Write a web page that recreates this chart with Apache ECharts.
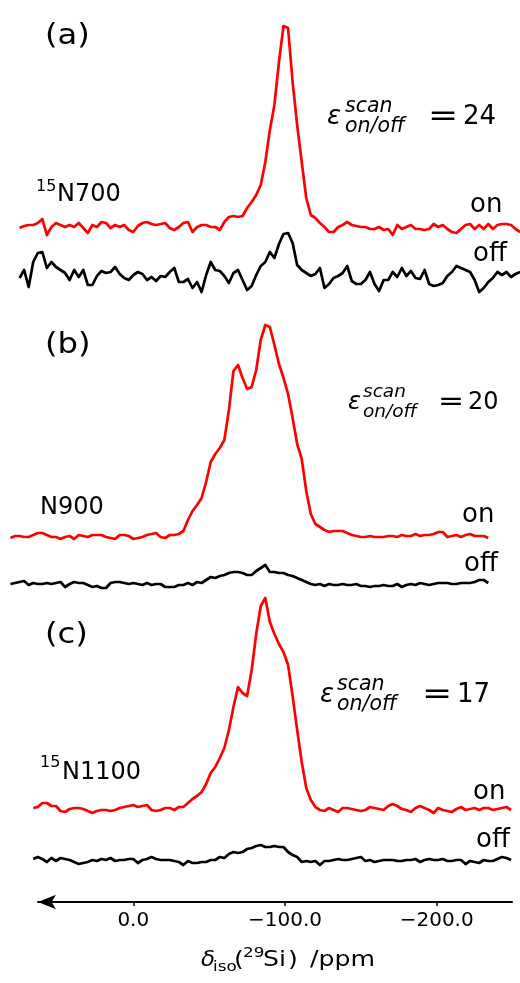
<!DOCTYPE html>
<html>
<head>
<meta charset="utf-8">
<script src="https://cdn.jsdelivr.net/npm/echarts@6/dist/echarts.min.js"></script>
<style>
  html, body { margin: 0; padding: 0; background: #fff; }
  #chart { width: 520px; height: 983px; }
</style>
</head>
<body>
<div id="chart"></div>
<script>
// 29Si chemical shift points (ppm), shared by all spectra
const shiftPpm = [
  81, 78, 75, 72, 69, 66, 63, 60, 57, 54,
  51, 48, 45, 42, 39, 36, 33, 30, 27, 24,
  21, 18, 15, 12, 9, 6, 3, 0, -3, -6,
  -9, -12, -15, -18, -21, -24, -27, -30, -33, -36,
  -39, -42, -45, -48, -51, -54, -57, -60, -63, -66,
  -69, -72, -75, -78, -81, -84, -87, -90, -93, -96,
  -99, -102, -105, -108, -111, -114, -117, -120, -123, -126,
  -129, -132, -135, -138, -141, -144, -147, -150, -153, -156,
  -159, -162, -165, -168, -171, -174, -177, -180, -183, -186,
  -189, -192, -195, -198, -201, -204, -207, -210, -213, -216,
  -219, -222, -225, -228, -231, -234, -237, -240, -243, -246,
  -249, -252, -255
];

// (a) 15N700 — DNP on / off intensities (a.u.)
const onA = [
  null, null, -2, 0, 1, 1, 3, 7, -9, -1,
  3, 1, -1, 1, -1, 3, -2, -7, 1, -1,
  4, 3, -2, 1, -1, 1, -4, -6, 0, 3,
  4, 2, 1, 2, 3, -2, -4, -1, 3, 4,
  -6, -1, 1, 1, -1, -1, -4, 4, 9, 10,
  9, 10, 18, 24, 31, 41, 64, 96, 121, 164,
  200, 198, 144, 101, 64, 28, 11, 8, 3, -1,
  -6, -6, -1, 1, 4, 1, 0, -1, -1, -3,
  -3, -1, -4, -3, -9, 1, -3, -1, 1, -3,
  -3, -4, -3, 2, -1, 1, -3, -6, -7, -3,
  1, 2, -3, 1, -3, 2, -3, 1, 2, 2,
  1, -3, -6
];
const offA = [
  null, null, -2, 6, -11, 14, 23, 24, 8, 14,
  9, 6, 3, -4, 6, -1, 6, -9, -9, 0,
  5, 3, 4, 9, 2, -2, -4, 1, 4, 2,
  -4, -1, -5, 0, -1, 4, 8, -6, -6, -3,
  -12, -6, -16, 1, 14, 6, 5, 0, -7, 3,
  6, -4, -14, -10, 1, 10, 14, 24, 18, 32,
  42, 43, 33, 11, 6, 3, 0, 2, 8, -12,
  -8, -2, 0, 3, 10, -5, -8, -8, -4, 4,
  -8, -15, -4, -4, 4, -1, 8, 0, 5, -2,
  -3, 6, -8, -10, -9, -7, 0, 4, 10, 8,
  6, 4, -4, -16, -12, -6, -2, 4, 1, 4,
  -1, 2, 4
];

// (b) N900
const onB = [
  -2, 0, 0, -1, -1, 1, 3, 3, 1, -1,
  -1, -3, -1, 0, -3, 1, 0, -1, 1, 1,
  1, -1, -2, -3, 1, 1, 0, -3, -2, -1,
  1, 2, 3, -1, -2, 1, 1, 2, 5, 16,
  25, 31, 38, 54, 74, 82, 88, 96, 126, 165,
  171, 158, 147, 149, 166, 196, 211, 209, 191, 172,
  158, 142, 118, 92, 77, 45, 22, 12, 9, 6,
  4, 5, 5, 5, 3, 1, 0, -1, -1, 0,
  -1, -1, -1, 0, 0, -1, 1, 0, 0, 2,
  0, 1, 1, 2, 4, 4, -1, 0, 1, -1,
  1, 2, 0, 0, 0, -2, null, null, null, null,
  null, null, null
];
const offB = [
  0, 1, 2, 3, -1, 1, 0, 0, 1, 0,
  1, 2, -3, 0, 2, 1, 1, -1, -3, -2,
  -4, -4, 1, 2, 2, 1, 0, 1, 0, -1,
  1, -1, 0, 0, -3, -3, -3, -1, -1, 1,
  -1, 2, 1, 4, 7, 6, 8, 9, 11, 12,
  12, 11, 9, 9, 13, 16, 19, 12, 12, 11,
  11, 9, 8, 6, 4, 2, 0, -1, 0, -2,
  0, -1, -1, 0, -1, -1, 0, -2, -2, -3,
  -2, -2, -1, -2, -2, 0, -3, -1, 0, -1,
  1, 0, -1, 0, 1, 1, 1, 0, 0, 1,
  1, 1, 2, 4, 4, 1, null, null, null, null,
  null, null, null
];

// (c) 15N1100
const onC = [
  null, null, null, null, null, 1, 2, 6, 6, 3,
  3, -2, -3, 0, 1, 1, 0, -2, -4, -2,
  -1, -1, -2, -1, 1, 2, 3, 4, 2, 3,
  4, -1, -2, -1, 1, 1, -1, 2, 2, 6,
  10, 13, 17, 25, 36, 42, 51, 61, 79, 102,
  122, 116, 113, 139, 175, 203, 211, 187, 175, 165,
  157, 144, 113, 79, 47, 21, 9, 2, -1, -2,
  1, -1, -3, 1, 1, 0, -1, -2, -1, 2,
  1, 0, -1, 3, 5, 3, 0, -1, -3, 1,
  3, 1, -1, -4, 1, -1, -2, -3, 0, 2,
  -1, 0, 1, -1, 1, 1, -1, 0, 1, 2,
  -1, null, null
];
const offC = [
  null, null, null, null, null, 1, 3, 1, -2, 2,
  -1, 2, 1, 0, -2, -4, -3, -2, 0, -1,
  1, 0, 2, -1, 0, 0, 1, 1, -3, 0,
  1, 3, 1, 0, 0, 0, -1, -2, -5, -1,
  -3, -3, -2, -2, 0, 0, 3, 2, 6, 8,
  7, 8, 11, 12, 14, 15, 13, 13, 14, 13,
  13, 8, 5, 3, -2, -1, -2, -1, -5, -1,
  -1, 0, 1, 0, 0, 1, 2, 3, -1, 0,
  -2, -1, 0, 0, 0, -1, -1, 0, 0, 1,
  -2, 0, 1, 0, 0, 1, -1, -1, 0, 0,
  -4, -1, -2, -3, 0, -1, -1, 1, 3, 2,
  0, null, null
];

const shiftTicks = [0, -100, -200];
const panelLetters = ['(a)', '(b)', '(c)'];
const sampleIsotope = ['15', '', '15'];
const sampleNames = ['N700', 'N900', 'N1100'];
const enhancement = ['24', '20', '17'];

const FONT = 'DejaVu Sans';
const RED = '#ff0000';
const BLACK = '#000000';

// one stacked trace per grid; "base" is the pixel row of the zero line
const traces = [
  { vals: onA,  color: RED,   base: 226 },
  { vals: offA, color: BLACK, base: 276 },
  { vals: onB,  color: RED,   base: 536 },
  { vals: offB, color: BLACK, base: 584 },
  { vals: onC,  color: RED,   base: 809 },
  { vals: offC, color: BLACK, base: 860 }
];

const grids = [], xAxes = [], yAxes = [], series = [];
traces.forEach((t, i) => {
  grids.push({ left: 0, width: 520, top: t.base - 220, height: 250 });
  xAxes.push({ type: 'value', gridIndex: i, min: -254.9, max: 87.9, inverse: true, show: false });
  yAxes.push({ type: 'value', gridIndex: i, min: -30, max: 220, show: false });
  series.push({
    type: 'line',
    xAxisIndex: i,
    yAxisIndex: i,
    data: shiftPpm.map((p, j) => [p, t.vals[j]]),
    symbol: 'none',
    showSymbol: false,
    silent: true,
    lineStyle: { color: t.color, width: 2.7, join: 'round' },
    itemStyle: { color: t.color }
  });
});

// visible chemical shift axis with arrow pointing to low field
grids.push({ left: 38, width: 474, top: 850, height: 52 });
xAxes.push({
  type: 'value', gridIndex: 6, min: -249.64, max: 62.82, inverse: true, position: 'bottom',
  axisLine: {
    show: true, onZero: false, symbol: ['arrow', 'none'], symbolSize: [11, 18],
    lineStyle: { color: BLACK, width: 2 }
  },
  axisTick: { show: true, customValues: shiftTicks, length: 4, lineStyle: { color: BLACK, width: 1.5 } },
  axisLabel: {
    customValues: shiftTicks, color: BLACK, fontFamily: FONT, fontSize: 20, margin: 9,
    formatter: v => (v < 0 ? '\u2212' : '') + Math.abs(v).toFixed(1)
  },
  splitLine: { show: false }
});
yAxes.push({ type: 'value', gridIndex: 6, min: 0, max: 1, show: false });

function label(text, x, baseline, size, italic, sx) {
  return {
    type: 'text', x: x, y: baseline - 0.3 * size, silent: true,
    scaleX: sx || 1,
    style: {
      text: text, fill: BLACK, fontFamily: FONT, fontSize: size,
      fontStyle: italic ? 'italic' : 'normal',
      align: 'left', verticalAlign: 'middle',
      textAlign: 'left', textVerticalAlign: 'middle'
    }
  };
}

const texts = [];
// panel letters
[45, 354, 644].forEach((b, i) => texts.push(label(panelLetters[i], 45, b, 28, false, 1.15)));
// sample names
texts.push(label(sampleIsotope[0], 36, 192, 16));
texts.push(label(sampleNames[0], 57, 202, 24));
texts.push(label(sampleNames[1], 40, 515, 24));
texts.push(label(sampleIsotope[2], 40, 768, 16));
texts.push(label(sampleNames[2], 62, 780, 24));
// on / off tags
[[470, 213, 473, 262], [462, 523, 464, 572], [473, 800, 476, 848]].forEach(p => {
  texts.push(label('on', p[0], p[1], 26));
  texts.push(label('off', p[2], p[3], 26));
});
// enhancement factors
const eps = [
  { x: 327, sx: 345, ex: 428, nx: 463, base: 125, size: 26, sub: 20.5, eq: 30 },
  { x: 348, sx: 363, ex: 438, nx: 468, base: 410, size: 24, sub: 18.5, eq: 26 },
  { x: 320, sx: 337, ex: 422, nx: 457, base: 703, size: 26, sub: 20.5, eq: 30 }
];
eps.forEach((e, i) => {
  texts.push(label('\u03b5', e.x, e.base, e.size, true));
  texts.push(label('scan', e.sx, e.base - 12, e.sub, true));
  texts.push(label('on/off', e.sx, e.base + 8, e.sub, true));
  texts.push(label('=', e.ex, e.base + 1, e.eq, false, 1.2));
  texts.push(label(enhancement[i], e.nx, e.base, e.size));
});
// axis title: δiso(29Si) /ppm
texts.push(label('\u03b4', 201, 967, 21, true, 1.1));
texts.push(label('iso', 213, 972, 14, false, 1.2));
texts.push(label('(', 234, 967, 21, false, 1.2));
texts.push(label('29', 243, 958, 14, false, 1.2));
texts.push(label('Si', 263, 967, 21, false, 1.2));
texts.push(label(')', 288, 967, 21, false, 1.2));
texts.push(label('/ppm', 310, 967, 21, false, 1.2));

const chart = echarts.init(document.getElementById('chart'), null, { renderer: 'canvas' });
chart.setOption({
  animation: false,
  backgroundColor: '#ffffff',
  grid: grids,
  xAxis: xAxes,
  yAxis: yAxes,
  series: series,
  graphic: { elements: texts }
});
</script>
</body>
</html>
